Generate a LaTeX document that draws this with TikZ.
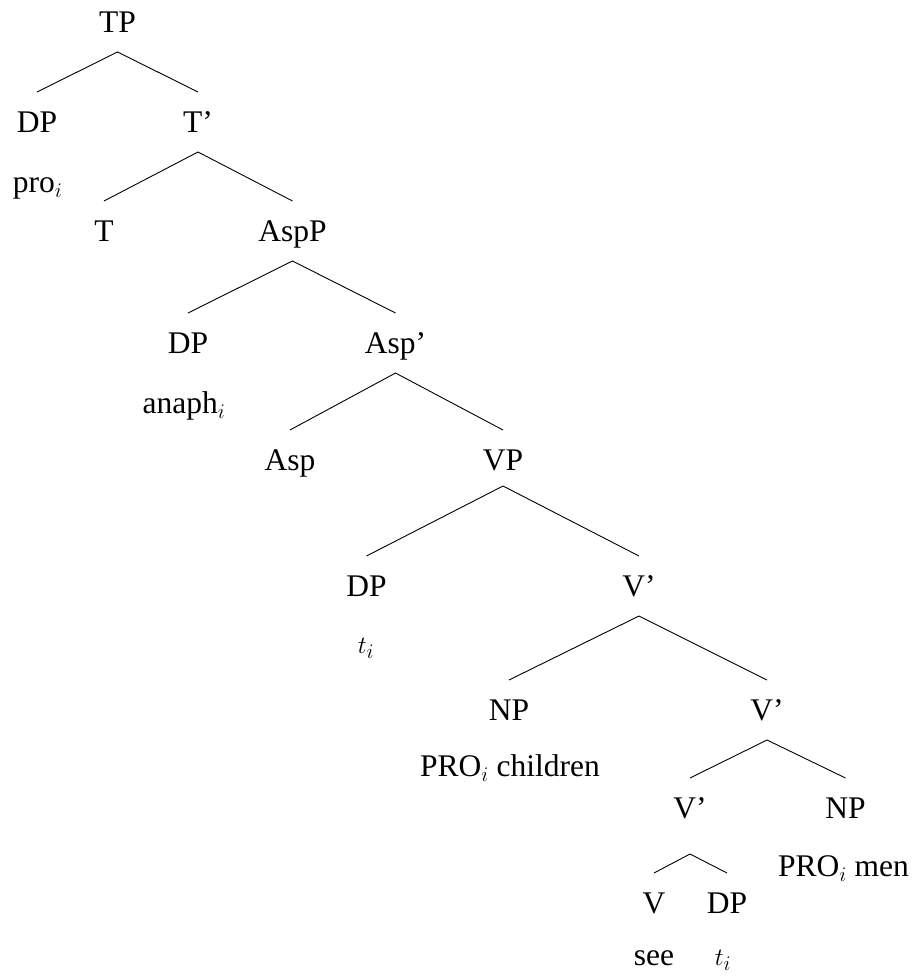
\documentclass[tikz,border=0pt]{standalone}
\usepackage{fontspec}
\setmainfont{Liberation Serif}
\begin{document}
\begin{tikzpicture}[x=1pt,y=-1pt,
  lab/.style={anchor=base,inner sep=0pt,outer sep=0pt,font=\fontsize{31.5}{36}\selectfont},
  cat/.style={lab,text height=20pt,text depth=0pt,outer ysep=20pt},
  edge/.style={line width=0.9pt}]
\path[use as bounding box,fill=white] (0,0) rectangle (913,977);
% categories
\node[cat] (TP)   at (117.5,32)  {TP};
\node[cat] (DPa)  at (37,132)    {DP};
\node[cat] (Tb)   at (198,132)   {T'};
\node[cat] (T)    at (104,241)   {T};
\node[cat] (AspP) at (292.5,241) {AspP};
\node[cat] (DPb)  at (188,353)   {DP};
\node[cat] (Aspb) at (395.5,353) {Asp'};
\node[cat] (Asp)  at (290,470)   {Asp};
\node[cat] (VP)   at (503,470)   {VP};
\node[cat] (DPc)  at (366.5,596) {DP};
\node[cat] (Va)   at (639,596)   {V'};
\node[cat] (NPa)  at (509,720)   {NP};
\node[cat] (Vb)   at (767,720)   {V'};
\node[cat] (Vc)   at (690,818)   {V'};
\node[cat] (NPb)  at (845.5,818) {NP};
\node[cat] (V)    at (654,913)   {V};
\node[cat] (DPd)  at (727,913)   {DP};
% terminals
\node[lab] (pro)   at (37.5,192)  {pro$_i$};
\node[lab] (anaph) at (184,413)   {anaph$_i$};
\node[lab] (ta)    at (366,653)   {$t_i$};
\node[lab] (PROc)  at (510,776)   {PRO$_i$ children};
\node[lab] (PROm)  at (843.5,876) {PRO$_i$ men};
\node[lab] (see)   at (654,965)   {see};
\node[lab] (tb)    at (723,965)   {$t_i$};
% edges
\draw[edge] (DPa.north) -- (TP.south) -- (Tb.north);
\draw[edge] (T.north) -- (Tb.south) -- (AspP.north);
\draw[edge] (DPb.north) -- (AspP.south) -- (Aspb.north);
\draw[edge] (Asp.north) -- (Aspb.south) -- (VP.north);
\draw[edge] (DPc.north) -- ([yshift=4pt]VP.south) -- (Va.north);
\draw[edge] (NPa.north) -- (Va.south) -- (Vb.north);
\draw[edge] (Vc.north) -- (Vb.south) -- (NPb.north);
\draw[edge] (V.north) -- ([yshift=-16pt]Vc.south) -- (DPd.north);
\end{tikzpicture}
\end{document}
